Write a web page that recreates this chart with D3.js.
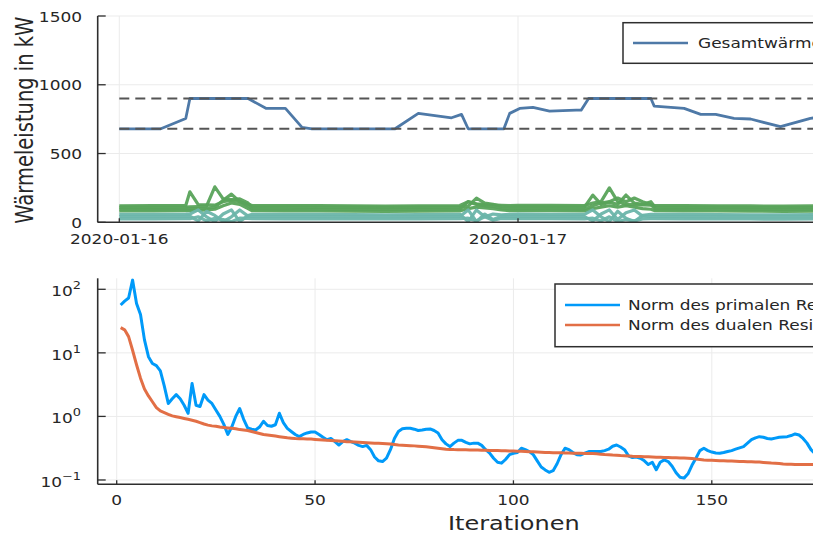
<!DOCTYPE html>
<html>
<head>
<meta charset="utf-8">
<script src="https://cdn.jsdelivr.net/npm/d3@7"></script>
<style>
  html, body { margin: 0; padding: 0; background: #fff; overflow: hidden; }
  svg { display: block; font-family: "DejaVu Sans", sans-serif; }
</style>
</head>
<body>
<svg id="chart" width="813" height="534"></svg>
<script>
// ---------- data: heat output (top panel) ----------
const startDay = "2020-01-16";
const dayTicks = ["2020-01-16", "2020-01-17"];
const heatTicks = [0, 500, 1000, 1500];
const heatLimits = [680, 900];              // lower / upper bound of total heat output

// total heat output: hours after start, kW
const totalHours = [0, 2.5, 4, 4.25, 7.75, 8.85, 10, 11, 11.6, 16.6, 18, 20, 20.6, 21, 23.15, 23.5, 24.1, 24.9, 25.9, 27.5, 27.8, 28.25, 32, 32.2, 34, 35, 35.9, 37, 38, 39.8, 41.6, 43, 45, 47];
const totalKW    = [680, 680, 755, 900, 900, 828, 828, 690, 680, 680, 792, 760, 785, 680, 680, 792, 828, 835, 809, 815, 815, 900, 900, 845, 828, 785, 785, 756, 751, 695, 756, 775, 790, 800];

// individual units: common time grid (hours after start)
const unitHours = [0, 2, 4, 4.25, 4.75, 5.25, 5.75, 6.25, 6.75, 7.25, 7.75, 8, 10, 12, 14, 16, 18, 20.5, 21, 21.5, 22, 22.5, 23, 23.5, 24, 26, 28, 28.5, 29, 29.5, 30, 30.5, 31, 31.5, 32, 32.25, 34, 36, 38, 40, 42, 44, 46, 47];
const unitA = [120,121,122,222,128,126,125,150,160,150,132,122,122,121,119,118,120,122,150,135,128,126,124,122,124,123,122,140,150,250,150,130,128,126,124,122,121,120,119,118,119,120,121,122];
const unitB = [108,109,110,112,115,118,258,170,165,170,140,110,110,109,108,107,108,110,118,176,140,130,115,110,112,111,110,198,130,145,130,198,140,130,150,110,109,108,107,106,107,108,109,110];
const unitC = [95,96,97,98,100,102,110,160,205,150,120,97,96,95,94,93,94,96,150,130,120,115,100,97,98,97,96,120,140,150,176,150,176,150,130,97,96,95,94,93,94,95,96,97];
const unitD = [82,83,84,85,86,90,95,120,140,130,100,84,83,82,81,80,81,83,100,110,105,100,90,84,85,84,83,100,110,120,110,120,110,100,95,84,83,82,81,80,81,82,83,84];
const unitE = [58,58,59,60,90,40,5,60,90,5,50,58,58,57,56,55,56,58,5,90,40,60,55,58,59,58,57,90,40,5,80,30,5,50,58,58,57,56,55,55,56,57,58,58];
const unitF = [42,42,43,44,10,80,50,5,40,90,45,42,42,41,40,40,41,42,90,5,60,20,45,42,43,42,41,10,60,90,20,70,90,45,42,42,41,40,40,39,40,41,42,42];
const unitG = [25,25,26,26,40,10,30,20,5,30,28,26,25,25,24,24,25,26,30,10,40,15,28,26,27,26,25,30,10,40,5,20,10,25,26,26,25,24,24,23,24,25,26,26];

// ---------- data: ADMM residuals (bottom panel) ----------
const iterTicks = [0, 50, 100, 150];
const residualExps = [-1, 0, 1, 2];
const primalResidual = [
  56.6,65,73,140,60,40,16,8.7,6.8,6.3,
  5.2,3,1.6,1.9,2.2,1.9,1.5,1.12,3.3,1.5,
  1.43,2.2,1.8,1.6,1.26,1.0,0.75,0.52,0.68,1.0,
  1.33,0.9,0.66,0.63,0.61,0.68,0.84,0.72,0.7,0.74,
  1.12,0.8,0.65,0.58,0.52,0.48,0.52,0.55,0.57,0.57,
  0.52,0.47,0.43,0.45,0.4,0.355,0.4,0.43,0.4,0.38,
  0.35,0.335,0.35,0.3,0.23,0.2,0.195,0.22,0.3,0.45,
  0.58,0.64,0.65,0.65,0.63,0.6,0.61,0.63,0.635,0.6,
  0.55,0.43,0.37,0.335,0.38,0.42,0.42,0.39,0.37,0.38,
  0.38,0.35,0.3,0.265,0.22,0.19,0.184,0.21,0.25,0.263,
  0.27,0.316,0.3,0.28,0.25,0.2,0.16,0.144,0.132,0.14,
  0.18,0.25,0.316,0.3,0.27,0.25,0.248,0.265,0.28,0.28,
  0.28,0.28,0.29,0.305,0.34,0.355,0.33,0.3,0.24,0.225,
  0.23,0.22,0.2,0.175,0.19,0.145,0.19,0.207,0.195,0.165,
  0.13,0.11,0.107,0.125,0.17,0.22,0.29,0.315,0.29,0.275,
  0.265,0.263,0.27,0.28,0.29,0.305,0.32,0.335,0.38,0.43,
  0.46,0.48,0.47,0.45,0.44,0.455,0.47,0.475,0.48,0.5,
  0.53,0.51,0.45,0.38,0.3,0.26,0.24,0.23
];
const dualResidual = [
  24.9,23,18,11,6.5,4,2.7,2.1,1.7,1.38,
  1.22,1.15,1.08,1.02,0.99,0.96,0.93,0.9,0.87,0.84,
  0.8,0.76,0.73,0.71,0.7,0.68,0.67,0.66,0.65,0.64,
  0.62,0.61,0.6,0.58,0.56,0.54,0.52,0.51,0.5,0.49,
  0.48,0.47,0.46,0.455,0.45,0.447,0.444,0.442,0.44,0.435,
  0.43,0.425,0.42,0.418,0.415,0.41,0.405,0.4,0.398,0.395,
  0.392,0.388,0.385,0.382,0.38,0.378,0.375,0.372,0.368,0.362,
  0.355,0.352,0.35,0.347,0.344,0.34,0.336,0.332,0.328,0.322,
  0.316,0.31,0.305,0.303,0.301,0.3,0.299,0.298,0.297,0.296,
  0.295,0.294,0.293,0.292,0.291,0.29,0.289,0.288,0.286,0.285,
  0.284,0.283,0.281,0.279,0.277,0.275,0.273,0.271,0.27,0.269,
  0.268,0.267,0.266,0.265,0.264,0.263,0.263,0.262,0.262,0.26,
  0.258,0.255,0.252,0.25,0.247,0.245,0.242,0.24,0.238,0.236,
  0.235,0.234,0.232,0.231,0.23,0.228,0.227,0.226,0.225,0.224,
  0.223,0.222,0.221,0.22,0.217,0.213,0.21,0.207,0.205,0.204,
  0.203,0.201,0.2,0.199,0.198,0.197,0.196,0.195,0.194,0.193,
  0.192,0.191,0.189,0.187,0.185,0.184,0.182,0.179,0.177,0.176,
  0.175,0.175,0.175,0.175,0.175,0.175,0.175,0.175
];

// ---------- styling ----------
const SX = 1.23;            // horizontal glyph stretch of the exported figure
const tickFont = 13.8, guideFont = 19.5, supFont = 10.5;
const textColor = "#262626";
const gridColor = "#ebebeb";
const axisColor = "#2e2e2e";
const blueTotal = "#4e79a7", green = "#59a35a", teal = "#6cb5aa";
const primalColor = "#009af9", dualColor = "#e26f46";

const svg = d3.select("#chart");
const L = 97.7, R = 930;

function txt(g, x, y, s, anchor, size, rotate) {
  return g.append("text")
    .attr("transform", `translate(${x},${y}) scale(${SX},1)` + (rotate ? " rotate(-90)" : ""))
    .attr("text-anchor", anchor)
    .attr("font-size", size)
    .attr("fill", textColor)
    .text(s);
}

// ================= top panel =================
const t0 = new Date(startDay + "T00:00:00Z");
const hourDate = h => new Date(t0.getTime() + h * 3600e3);
const topY0 = 222.3, topY1 = 16;
const xTop = d3.scaleUtc().domain([hourDate(-1.3), hourDate(48.8)]).range([L, R]);
const yTop = d3.scaleLinear().domain([0, 1500]).range([topY0, topY1]);

const topG = svg.append("g");
topG.append("clipPath").attr("id", "clipTop").append("rect")
  .attr("x", L).attr("y", topY1).attr("width", R - L).attr("height", topY0 - topY1);

// grid
topG.selectAll("line.hg").data(heatTicks).join("line")
  .attr("x1", L).attr("x2", R).attr("y1", d => yTop(d)).attr("y2", d => yTop(d))
  .attr("stroke", gridColor).attr("stroke-width", 1);
topG.selectAll("line.vg").data(dayTicks).join("line")
  .attr("x1", d => xTop(new Date(d + "T00:00:00Z"))).attr("x2", d => xTop(new Date(d + "T00:00:00Z")))
  .attr("y1", topY1).attr("y2", topY0)
  .attr("stroke", gridColor).attr("stroke-width", 1);

const topLine = d3.line().x(d => xTop(hourDate(d[0]))).y(d => yTop(d[1]));
const plotTop = topG.append("g").attr("clip-path", "url(#clipTop)");

const units = [
  { v: unitA, c: green }, { v: unitB, c: green }, { v: unitC, c: green }, { v: unitD, c: green },
  { v: unitE, c: teal }, { v: unitF, c: teal }, { v: unitG, c: teal }
];
units.forEach(u => {
  plotTop.append("path")
    .datum(unitHours.map((h, i) => [h, u.v[i]]))
    .attr("d", topLine).attr("fill", "none")
    .attr("stroke", u.c).attr("stroke-width", 3.2).attr("stroke-linejoin", "round").attr("stroke-opacity", 0.95);
});

plotTop.append("path")
  .datum(totalHours.map((h, i) => [h, totalKW[i]]))
  .attr("d", topLine).attr("fill", "none")
  .attr("stroke", blueTotal).attr("stroke-width", 2.8).attr("stroke-linejoin", "round");

heatLimits.forEach(v => {
  plotTop.append("line")
    .attr("x1", xTop(hourDate(0))).attr("x2", xTop(hourDate(47)))
    .attr("y1", yTop(v)).attr("y2", yTop(v))
    .attr("stroke", "#555").attr("stroke-width", 2).attr("stroke-dasharray", "10,6");
});

// axes
topG.append("line").attr("x1", L).attr("x2", L).attr("y1", topY1).attr("y2", topY0)
  .attr("stroke", axisColor).attr("stroke-width", 1.6);
topG.append("line").attr("x1", L).attr("x2", R).attr("y1", topY0).attr("y2", topY0)
  .attr("stroke", axisColor).attr("stroke-width", 1.6);
heatTicks.forEach(v => {
  topG.append("line").attr("x1", L).attr("x2", L + 8).attr("y1", yTop(v)).attr("y2", yTop(v))
    .attr("stroke", axisColor).attr("stroke-width", 1.3);
  txt(topG, 82, yTop(v) + 5.5, String(v), "end", tickFont);
});
dayTicks.forEach(d => {
  const x = xTop(new Date(d + "T00:00:00Z"));
  topG.append("line").attr("x1", x).attr("x2", x).attr("y1", topY0).attr("y2", topY0 - 4)
    .attr("stroke", axisColor).attr("stroke-width", 1.3);
  txt(topG, x, 243.5, d, "middle", tickFont);
});
txt(topG, 33, (topY0 + topY1) / 2 + 1, "Wärmeleistung in kW", "middle", guideFont, true);

// legend
const lgTop = topG.append("g");
lgTop.append("rect").attr("x", 623).attr("y", 22.7).attr("width", 300).attr("height", 40.6)
  .attr("fill", "#fff").attr("stroke", axisColor).attr("stroke-width", 1.5);
lgTop.append("line").attr("x1", 633).attr("x2", 688).attr("y1", 43).attr("y2", 43)
  .attr("stroke", blueTotal).attr("stroke-width", 2.5);
txt(lgTop, 698, 48, "Gesamtwärmeleistung", "start", tickFont);

// ================= bottom panel =================
const botY0 = 484.3, botY1 = 278.3;
const xBot = d3.scaleLinear().domain([-4.79, 205]).range([L, R]);
const yBot = d3.scaleLog().domain([Math.pow(10, -1.068), Math.pow(10, 2.173)]).range([botY0, botY1]);

const botG = svg.append("g");
botG.append("clipPath").attr("id", "clipBot").append("rect")
  .attr("x", L).attr("y", botY1).attr("width", R - L).attr("height", botY0 - botY1);

residualExps.forEach(e => {
  const y = yBot(Math.pow(10, e));
  botG.append("line").attr("x1", L).attr("x2", R).attr("y1", y).attr("y2", y)
    .attr("stroke", gridColor).attr("stroke-width", 1);
});
iterTicks.forEach(t => {
  botG.append("line").attr("x1", xBot(t)).attr("x2", xBot(t)).attr("y1", botY1).attr("y2", botY0)
    .attr("stroke", gridColor).attr("stroke-width", 1);
});

const botLine = d3.line().x((d, i) => xBot(i + 1)).y(d => yBot(d));
const plotBot = botG.append("g").attr("clip-path", "url(#clipBot)");
plotBot.append("path").datum(primalResidual).attr("d", botLine).attr("fill", "none")
  .attr("stroke", primalColor).attr("stroke-width", 3).attr("stroke-linejoin", "round");
plotBot.append("path").datum(dualResidual).attr("d", botLine).attr("fill", "none")
  .attr("stroke", dualColor).attr("stroke-width", 3).attr("stroke-linejoin", "round");

botG.append("line").attr("x1", L).attr("x2", L).attr("y1", botY1).attr("y2", botY0)
  .attr("stroke", axisColor).attr("stroke-width", 1.6);
botG.append("line").attr("x1", L).attr("x2", R).attr("y1", botY0).attr("y2", botY0)
  .attr("stroke", axisColor).attr("stroke-width", 1.6);
residualExps.forEach(e => {
  const y = yBot(Math.pow(10, e));
  botG.append("line").attr("x1", L).attr("x2", L + 8).attr("y1", y).attr("y2", y)
    .attr("stroke", axisColor).attr("stroke-width", 1.3);
  const t = txt(botG, 81, y + 7, "", "end", tickFont);
  t.append("tspan").text("10");
  t.append("tspan").attr("font-size", supFont).attr("dy", -7).text(e < 0 ? "\u2212" + (-e) : String(e));
});
iterTicks.forEach(t => {
  const x = xBot(t);
  botG.append("line").attr("x1", x).attr("x2", x).attr("y1", botY0).attr("y2", botY0 - 4)
    .attr("stroke", axisColor).attr("stroke-width", 1.3);
  txt(botG, x, 505, String(t), "middle", tickFont);
});
txt(botG, (L + R) / 2, 530, "Iterationen", "middle", guideFont);

// legend
const lgBot = botG.append("g");
lgBot.append("rect").attr("x", 555).attr("y", 284).attr("width", 360).attr("height", 62.7)
  .attr("fill", "#fff").attr("stroke", axisColor).attr("stroke-width", 1.5);
[["Norm des primalen Residuums", primalColor, 305], ["Norm des dualen Residuums", dualColor, 325]]
  .forEach(([name, c, y]) => {
    lgBot.append("line").attr("x1", 565).attr("x2", 620).attr("y1", y).attr("y2", y)
      .attr("stroke", c).attr("stroke-width", 2.5);
    txt(lgBot, 628, y + 5, name, "start", tickFont);
  });
</script>
</body>
</html>
